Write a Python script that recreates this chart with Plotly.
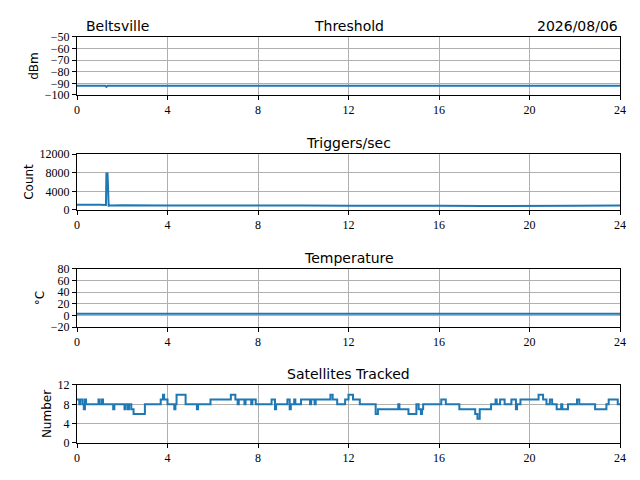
import plotly.graph_objects as go
from plotly.subplots import make_subplots

# threshold (dBm)
thr_t = [0, 1.25, 1.3, 1.35, 6, 12, 18, 24]
thr_v = [-92, -92, -93, -92, -92, -92, -92, -92]

# triggers/sec
trig_t = [0, 0.5, 1.0, 1.28, 1.3, 1.35, 1.4, 1.45, 2, 4, 6, 8, 10, 12, 14, 16, 18, 20, 22, 24]
trig_v = [1100, 1150, 1100, 1050, 7800, 7800, 900, 950, 1000, 950, 1000, 900, 950, 900, 950, 900, 850, 950, 900, 950]

# temperature (C)
temp_t = [0, 6, 12, 18, 24]
temp_v = [3, 3, 3, 3, 3]

# satellites tracked (step)
sat_t = [0, 0.1, 0.15, 0.25, 0.3, 0.35, 0.4, 0.9, 0.95, 1.0, 1.1, 1.15, 1.25, 1.6, 1.65, 2.1, 2.15, 2.25, 2.3,
         2.4, 2.5, 3.0, 3.7, 3.8, 3.85, 4.0, 4.3, 4.35, 4.4, 4.8, 5.3, 5.35, 5.9, 6.3, 6.8, 7.0, 7.1, 7.15, 7.4, 7.45,
         7.7, 7.75, 7.9, 8.0, 8.2, 8.6, 8.75, 8.8, 9.3, 9.4, 9.45, 9.6, 9.65, 9.9, 10.3, 10.35, 10.5, 10.55, 11.2,
         11.3, 11.5, 11.85, 12.0, 12.2, 12.5, 13.0, 13.2, 13.3, 13.9, 14.2, 14.25, 14.6, 14.65, 15.0, 15.1, 15.2,
         15.25, 15.3, 15.5, 16.0, 16.1, 16.3, 16.5, 16.9, 17.6, 17.7, 17.8, 18.1, 18.3, 18.5, 18.55, 18.7, 18.9,
         19.2, 19.4, 19.45, 19.6, 20.0, 20.3, 20.4, 20.6, 20.75, 20.9, 21.0, 21.2, 21.4, 21.45, 21.7, 22.0, 22.1,
         22.2, 22.8, 22.9, 23.4, 23.5, 23.9, 24]
sat_v = [9, 8, 9, 8, 7, 9, 8, 8, 9, 8, 9, 8, 8, 7, 8, 7, 8, 7, 8,
         7, 6, 8, 9, 10, 9, 8, 7, 8, 10, 8, 7, 8, 9, 9, 10, 9, 8, 9, 8, 9,
         8, 9, 8, 8, 8, 9, 7, 8, 9, 7, 8, 9, 8, 9, 8, 9, 8, 9, 10,
         9, 8, 9, 10, 9, 8, 8, 6, 7, 7, 8, 7, 7, 6, 8, 7, 6, 7, 8, 8, 8, 9, 8, 8,
         7, 6, 5, 7, 7, 8, 9, 8, 9, 8, 9, 7, 8, 9, 9, 9, 10, 9, 8, 9, 8, 7, 8, 7,
         8, 8, 9, 8, 8, 7, 8, 9, 8, 8]

panels = [
    (thr_t, thr_v, "Threshold", "dBm", [-100, -50], [-100, -90, -80, -70, -60, -50]),
    (trig_t, trig_v, "Triggers/sec", "Count", [0, 12000], [0, 4000, 8000, 12000]),
    (temp_t, temp_v, "Temperature", "°C", [-20, 80], [-20, 0, 20, 40, 60, 80]),
    (sat_t, sat_v, "Satellites Tracked", "Number", [0, 12], [0, 4, 8, 12]),
]
# page body adds an 8px offset, domains compensate for it
domains = [[0.8188, 0.9396], [0.5792, 0.6958], [0.3354, 0.4563], [0.0938, 0.2146]]
xdom = [69 / 640, 612 / 640]

fig = make_subplots(rows=4, cols=1)
blue = "#1f77b4"
for i, (t, v, title, ylab, yr, yt) in enumerate(panels, start=1):
    shape = "hv" if i == 4 else "linear"
    fig.add_trace(go.Scatter(x=t, y=v, mode="lines", line=dict(color=blue, width=2, shape=shape),
                             showlegend=False), row=i, col=1)
    fig.update_yaxes(range=yr, tickvals=yt, ticktext=["−" + str(-x) if x < 0 else str(x) for x in yt],
                     domain=domains[i - 1], title=dict(text=ylab, standoff=3, font=dict(size=12)),
                     row=i, col=1)
    fig.update_xaxes(range=[0, 24], tickvals=[0, 4, 8, 12, 16, 20, 24], domain=xdom,
                     row=i, col=1)
    fig.add_annotation(text=title, x=sum(xdom) / 2, y=domains[i - 1][1], xref="paper", yref="paper",
                       xanchor="center", yanchor="bottom", yshift=1, showarrow=False,
                       font=dict(size=14))

fig.add_annotation(text="Beltsville", x=xdom[0] + 7 / 640, y=domains[0][1], xref="paper", yref="paper",
                   xanchor="left", yanchor="bottom", yshift=1, showarrow=False, font=dict(size=14))
fig.add_annotation(text="2026/08/06", x=xdom[1], y=domains[0][1], xref="paper", yref="paper",
                   xanchor="right", yanchor="bottom", yshift=1, showarrow=False, font=dict(size=14))

axis_style = dict(showline=True, linecolor="black", linewidth=1, mirror=True, ticks="outside",
                  ticklen=4, tickcolor="black", showgrid=True, gridcolor="#b0b0b0", gridwidth=1,
                  zeroline=False, automargin=False, tickfont=dict(family="Liberation Serif", size=12))
fig.update_xaxes(**axis_style)
fig.update_yaxes(**axis_style)
fig.update_layout(width=640, height=480, margin=dict(l=0, r=0, t=0, b=0),
                  plot_bgcolor="white", paper_bgcolor="white",
                  font=dict(family="DejaVu Sans", color="black", size=12))
fig.write_html("out.html")
